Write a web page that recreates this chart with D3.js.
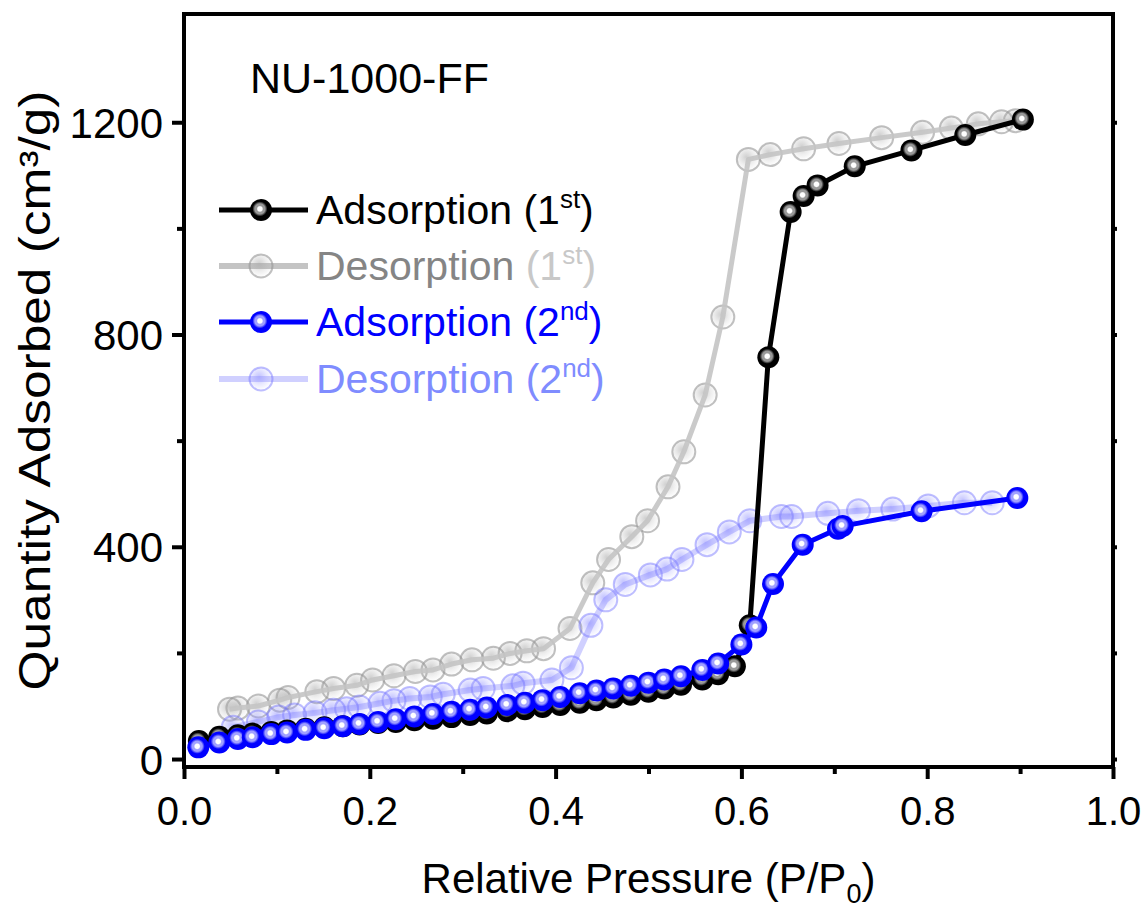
<!DOCTYPE html>
<html><head><meta charset="utf-8">
<script src="https://cdn.jsdelivr.net/npm/d3@7"></script>
<style>body{margin:0;background:#fff}svg{font-family:"Liberation Sans",Arial,sans-serif}</style>
</head><body><svg id="c" width="1146" height="909"></svg>
<script>
const xTicks=[0,0.2,0.4,0.6,0.8,1.0];
const xMinor=[0.1,0.3,0.5,0.7,0.9];
const yTicks=[0,400,800,1200];
const yMinor=[200,600,1000];
const sampleLabel="NU-1000-FF";

const ads1P=[0.016,0.038,0.058,0.074,0.094,0.111,0.131,0.151,0.171,0.189,0.209,0.228,0.248,0.268,0.288,0.308,0.326,0.348,0.367,0.386,0.405,0.426,0.444,0.462,0.481,0.500,0.517,0.535,0.558,0.575,0.593,0.609,0.629,0.653,0.667,0.682,0.722,0.783,0.841,0.903];
const ads1Q=[34,42,45,48,51,54,57,60,62,65,68,70,73,76,79,83,86,90,94,98,102,106,111,116,121,127,133,140,150,160,175,252,757,1031,1061,1081,1117,1147,1176,1205];

const des1P=[0.895,0.880,0.855,0.826,0.795,0.751,0.705,0.667,0.631,0.6075,0.580,0.561,0.538,0.521,0.499,0.482,0.457,0.440,0.4155,0.387,0.369,0.351,0.333,0.310,0.288,0.268,0.249,0.226,0.203,0.186,0.161,0.143,0.112,0.103,0.080,0.058,0.049];
const des1Q=[1203,1201,1197,1189,1181,1171,1160,1150,1139,1130,833,686,579,513,449,419,376,332,246,208,204,199,190,187,179,168,165,157,149,139,133,127,116,111,100,96,94];

const ads2P=[0.0154,0.038,0.058,0.074,0.094,0.111,0.131,0.151,0.171,0.189,0.209,0.228,0.248,0.268,0.288,0.308,0.326,0.348,0.367,0.386,0.405,0.426,0.444,0.462,0.481,0.500,0.517,0.535,0.558,0.575,0.600,0.616,0.634,0.666,0.704,0.709,0.794,0.897];
const ads2Q=[22,31,38,41,47,50,55,58,62,66,70,75,80,85,89,93,97,102,106,111,117,124,129,133,138,144,150,156,168,180,216,248,330,404,434,439,467,492];

const des2P=[0.870,0.840,0.801,0.763,0.726,0.693,0.654,0.643,0.609,0.587,0.563,0.536,0.520,0.502,0.475,0.454,0.438,0.417,0.396,0.365,0.354,0.322,0.308,0.279,0.265,0.243,0.226,0.211,0.189,0.175,0.161,0.141,0.119,0.102,0.080,0.053];
const des2Q=[483,483,477,471,468,463,457,457,449,428,404,376,358,347,329,300,252,172,149,143,138,133,130,122,117,114,110,105,98,95,92,87,83,79,70,60];

const svg=d3.select("#c");
const x=d3.scaleLinear().domain([0,1]).range([184,1113]);
const y=d3.scaleLinear().domain([-15,1404]).range([767,14]);

const defs=svg.append("defs");
function ballGrad(id,outer,ring){
  const g=defs.append("radialGradient").attr("id",id).attr("cx","45%").attr("cy","45%").attr("r","55%");
  g.append("stop").attr("offset","0%").attr("stop-color","#fff");
  g.append("stop").attr("offset","18%").attr("stop-color","#fff");
  g.append("stop").attr("offset","28%").attr("stop-color",ring);
  g.append("stop").attr("offset","42%").attr("stop-color",ring);
  g.append("stop").attr("offset","62%").attr("stop-color",outer);
  g.append("stop").attr("offset","100%").attr("stop-color",outer);
}
ballGrad("gBlack","#000","#999");
ballGrad("gBlue","#0000ff","#a0a0ff");
function hollowGrad(id,c){
  const g=defs.append("radialGradient").attr("id",id).attr("cx","42%").attr("cy","40%").attr("r","60%");
  g.append("stop").attr("offset","0%").attr("stop-color",c).attr("stop-opacity",0.55);
  g.append("stop").attr("offset","55%").attr("stop-color",c).attr("stop-opacity",0.2);
  g.append("stop").attr("offset","100%").attr("stop-color",c).attr("stop-opacity",0.0);
}
hollowGrad("gGrayH","#a8a8a8");
hollowGrad("gBlueH","#9090ff");

const series=[
  {P:des1P,Q:des1Q,line:"#c4c4c4",lw:5,lop:0.9,fill:"url(#gGrayH)",stroke:"rgba(150,150,150,0.6)",sw:2,r:11.5,hollow:true},
  {P:des2P,Q:des2Q,line:"rgba(120,120,255,0.35)",lw:6,lop:1,fill:"url(#gBlueH)",stroke:"rgba(110,110,255,0.45)",sw:2,r:11.5,hollow:true},
  {P:ads1P,Q:ads1Q,line:"#000",lw:5,lop:1,fill:"url(#gBlack)",stroke:"none",sw:0,r:11,hollow:false},
  {P:ads2P,Q:ads2Q,line:"#0000ff",lw:5,lop:1,fill:"url(#gBlue)",stroke:"none",sw:0,r:11,hollow:false}
];
const line=d3.line().x(d=>x(d[0])).y(d=>y(d[1]));
series.forEach(s=>{
  const pts=s.P.map((p,i)=>[p,s.Q[i]]);
  const g=svg.append("g");
  if(s.hollow){
    g.selectAll("circle").data(pts).join("circle").attr("cx",d=>x(d[0])).attr("cy",d=>y(d[1])).attr("r",s.r)
      .attr("fill",s.fill).attr("stroke",s.stroke).attr("stroke-width",s.sw);
    g.append("path").attr("d",line(pts)).attr("fill","none").attr("stroke",s.line).attr("stroke-width",s.lw).attr("opacity",s.lop).attr("stroke-linejoin","round");
  } else {
    g.append("path").attr("d",line(pts)).attr("fill","none").attr("stroke",s.line).attr("stroke-width",s.lw).attr("stroke-linejoin","round");
    g.selectAll("circle").data(pts).join("circle").attr("cx",d=>x(d[0])).attr("cy",d=>y(d[1])).attr("r",s.r)
      .attr("fill",s.fill);
  }
});

// frame
const fr=svg.append("g");
fr.append("rect").attr("x",x(0)).attr("y",y(1404)).attr("width",x(1)-x(0)).attr("height",y(-15)-y(1404))
  .attr("fill","none").attr("stroke","#000").attr("stroke-width",4);

// axes
const xa=svg.append("g").attr("transform",`translate(0,${y(-15)})`)
  .call(d3.axisBottom(x).tickValues(xTicks).tickFormat(d3.format(".1f")).tickSize(12).tickPadding(8));
const xm=svg.append("g").attr("transform",`translate(0,${y(-15)})`)
  .call(d3.axisBottom(x).tickValues(xMinor).tickFormat("").tickSize(7));
const ya=svg.append("g").attr("transform",`translate(${x(0)},0)`)
  .call(d3.axisLeft(y).tickValues(yTicks).tickFormat(d3.format("d")).tickSize(12).tickPadding(9));
const ym=svg.append("g").attr("transform",`translate(${x(0)},0)`)
  .call(d3.axisLeft(y).tickValues(yMinor).tickFormat("").tickSize(7));
const yr=svg.append("g").attr("transform",`translate(${x(1)},0)`)
  .call(d3.axisRight(y).tickValues(yTicks.concat(yMinor)).tickFormat("").tickSize(4));
[xa,xm,ya,ym,yr].forEach(a=>{
  a.select(".domain").remove();
  a.selectAll(".tick line").attr("stroke","#000").attr("stroke-width",4);
  a.selectAll("text").attr("fill","#000").attr("font-family","Liberation Sans, Arial, sans-serif");
});
xa.selectAll("text").attr("font-size",40).attr("dy","0.95em");
ya.selectAll("text").attr("font-size",42).attr("dy","0.36em");

// titles
svg.append("text").attr("x",(x(0)+x(1))/2).attr("y",893).attr("text-anchor","middle").attr("font-size",42)
  .html('Relative Pressure (P/P<tspan font-size="27" dy="10">0</tspan><tspan dy="-10">)</tspan>');
svg.append("text").attr("transform",`translate(50,${(y(-15)+y(1404))/2}) rotate(-90)`).attr("text-anchor","middle").attr("font-size",44)
  .attr("textLength",600).attr("lengthAdjust","spacingAndGlyphs")
  .text("Quantity Adsorbed (cm³/g)");
svg.append("text").attr("x",250).attr("y",93).attr("font-size",43).text(sampleLabel);

// legend
const legend=[
  {name:"Adsorption",ord:"1",sup:"st",c1:"#000",c2:"#000",fill:"url(#gBlack)",line:"#000",hollow:false},
  {name:"Desorption",ord:"1",sup:"st",c1:"#858585",c2:"#c8c8c8",fill:"url(#gGrayH)",line:"#c4c4c4",stroke:"rgba(150,150,150,0.6)",hollow:true},
  {name:"Adsorption",ord:"2",sup:"nd",c1:"#0000ff",c2:"#0000ff",fill:"url(#gBlue)",line:"#0000ff",hollow:false},
  {name:"Desorption",ord:"2",sup:"nd",c1:"#7f8cff",c2:"#7f8cff",fill:"url(#gBlueH)",line:"rgba(120,120,255,0.35)",stroke:"rgba(110,110,255,0.45)",hollow:true}
];
const lrows=[210,266,322,379];
legend.forEach((l,i)=>{
  const g=svg.append("g").attr("transform",`translate(0,${lrows[i]})`);
  g.append("line").attr("x1",219).attr("x2",308).attr("y1",0).attr("y2",0).attr("stroke",l.line).attr("stroke-width",l.hollow?6:5);
  g.append("circle").attr("cx",261).attr("cy",0).attr("r",l.hollow?11.5:11).attr("fill",l.fill)
    .attr("stroke",l.hollow?l.stroke:"none").attr("stroke-width",2);
  const t=g.append("text").attr("x",316).attr("y",14).attr("font-size",41).attr("fill",l.c1);
  t.append("tspan").text(l.name+" ");
  t.append("tspan").attr("fill",l.c2).text("("+l.ord);
  t.append("tspan").attr("fill",l.c2).attr("font-size",26).attr("dy",-16).text(l.sup);
  t.append("tspan").attr("fill",l.c2).attr("dy",16).text(")");
});
</script></body></html>
